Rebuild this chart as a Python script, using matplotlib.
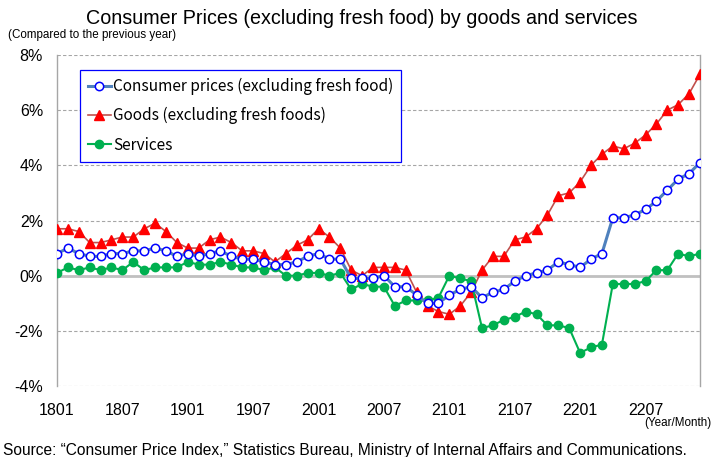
import numpy as np
import matplotlib
matplotlib.use("Agg")
import matplotlib.pyplot as plt

plt.rcParams['font.family'] = ['Liberation Sans', 'DejaVu Sans']

# monthly, 2018/01 .. 2022/12
months = ["%02d%02d" % (y, m) for y in range(18, 23) for m in range(1, 13)]

cpi_core = [0.8, 1.0, 0.8, 0.7, 0.7, 0.8, 0.8, 0.9, 0.9, 1.0,
            0.9, 0.7, 0.8, 0.7, 0.8, 0.9, 0.7, 0.6, 0.6, 0.5,
            0.4, 0.4, 0.5, 0.7, 0.8, 0.6, 0.6, -0.1, -0.1, -0.1,
            0.0, -0.4, -0.4, -0.7, -1.0, -1.0, -0.7, -0.5, -0.4, -0.8,
            -0.6, -0.5, -0.2, 0.0, 0.1, 0.2, 0.5, 0.4, 0.3, 0.6,
            0.8, 2.1, 2.1, 2.2, 2.4, 2.7, 3.1, 3.5, 3.7, 4.1]

goods = [1.7, 1.7, 1.6, 1.2, 1.2, 1.3, 1.4, 1.4, 1.7, 1.9,
         1.6, 1.2, 1.0, 1.0, 1.3, 1.4, 1.2, 0.9, 0.9, 0.8,
         0.5, 0.8, 1.1, 1.3, 1.7, 1.4, 1.0, 0.2, 0.0, 0.3,
         0.3, 0.3, 0.2, -0.6, -1.1, -1.3, -1.4, -1.1, -0.6, 0.2,
         0.7, 0.7, 1.3, 1.4, 1.7, 2.2, 2.9, 3.0, 3.4, 4.0,
         4.4, 4.7, 4.6, 4.8, 5.1, 5.5, 6.0, 6.2, 6.6, 7.3]

services = [0.1, 0.3, 0.2, 0.3, 0.2, 0.3, 0.2, 0.5, 0.2, 0.3,
            0.3, 0.3, 0.5, 0.4, 0.4, 0.5, 0.4, 0.3, 0.3, 0.2,
            0.3, 0.0, 0.0, 0.1, 0.1, 0.0, 0.1, -0.5, -0.3, -0.4,
            -0.4, -1.1, -0.9, -0.9, -0.9, -0.8, 0.0, -0.1, -0.2, -1.9,
            -1.8, -1.6, -1.5, -1.3, -1.4, -1.8, -1.8, -1.9, -2.8, -2.6,
            -2.5, -0.3, -0.3, -0.3, -0.2, 0.2, 0.2, 0.8, 0.7, 0.8]

xtick_labels = ["1801", "1807", "1901", "1907", "2001", "2007",
                "2101", "2107", "2201", "2207"]
yticks = [-4, -2, 0, 2, 4, 6, 8]

fig = plt.figure(figsize=(7.12, 4.57), dpi=100)
ax = fig.add_axes([57 / 712, 1 - 386 / 457, 643 / 712, 331 / 457])

x = np.arange(len(months))

# grid
for v in yticks:
    if v == 0:
        ax.axhline(v, color="#c0c0c0", lw=2.0, zorder=1)
    else:
        ax.axhline(v, color="#a6a6a6", lw=0.8, ls=(0, (3, 2)), zorder=1)

ax.plot(x, cpi_core, color="#4f81bd", lw=2.2, marker="o", ms=6,
        mfc="white", mec="#0000ff", mew=1.1, zorder=4,
        label="Consumer prices (excluding fresh food)")
ax.plot(x, goods, color="#c0504d", lw=1.2, marker="^", ms=6.5,
        mfc="#ff0000", mec="#ff0000", zorder=3,
        label="Goods (excluding fresh foods)")
ax.plot(x, services, color="#00b050", lw=1.5, marker="o", ms=6,
        mfc="#00b050", mec="#00b050", zorder=3,
        label="Services")

ax.set_xlim(0, len(months) - 1)
ax.set_ylim(-4, 8)

ax.set_yticks(yticks)
ax.set_yticklabels(["%d%%" % v for v in yticks], fontsize=11.5)
ax.set_xticks(x[::6])
ax.set_xticklabels(xtick_labels, fontsize=11.5)
ax.tick_params(length=0, pad=12)
ax.tick_params(axis="y", pad=10)

for s in ["top", "bottom"]:
    ax.spines[s].set_visible(False)
for s in ["left", "right"]:
    ax.spines[s].set_color("#a6a6a6")
    ax.spines[s].set_linewidth(1.0)

leg = ax.legend(loc="upper left", bbox_to_anchor=(23 / 643, 1 - 15 / 331),
                prop={"family": ["Noto Sans CJK JP", "DejaVu Sans"], "size": 11.1},
                handlelength=1.5, handletextpad=0.15, labelspacing=0.8,
                borderpad=0.5, fancybox=False, framealpha=1,
                edgecolor="#0000ff", borderaxespad=0)
leg.get_frame().set_linewidth(0.9)

fig.text(0.508, 1 - 19 / 457, "Consumer Prices (excluding fresh food) by goods and services",
         ha="center", va="center", fontsize=14.2)
fig.text(8 / 712, 1 - 35 / 457, "(Compared to the previous year)",
         ha="left", va="center", fontsize=8.4,
         family=["Liberation Sans Narrow", "Liberation Sans"])
fig.text(711 / 712, 1 - 423 / 457, "(Year/Month)",
         ha="right", va="center", fontsize=8.4,
         family=["Liberation Sans Narrow", "Liberation Sans"])
fig.text(3 / 712, 1 - 450 / 457,
         "Source: \u201cConsumer Price Index,\u201d Statistics Bureau, Ministry of Internal Affairs and Communications.",
         ha="left", va="center", fontsize=11.2)

fig.savefig("out.png", dpi=100)
